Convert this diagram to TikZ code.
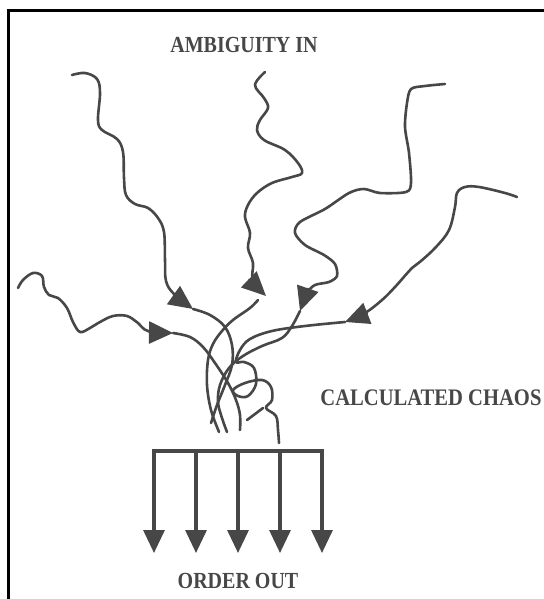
\documentclass[tikz,border=0pt]{standalone}
\usepackage{fontspec}
\setmainfont{Liberation Serif}
\usetikzlibrary{arrows.meta}
\definecolor{ink}{HTML}{474747}
\begin{document}
\begin{tikzpicture}[x=0.5pt,y=-0.5pt,
  wire/.style={draw=ink, line width=1.3pt, line cap=round, line join=round},
  tip/.style={-{Triangle[length=12pt,width=11pt]}},
  outarrow/.style={draw=ink, line width=1.6pt},
  caption/.style={font=\bfseries\fontsize{10}{12}\selectfont, text=ink, inner sep=0pt, anchor=base}]
  \useasboundingbox (0,0) rectangle (544,599);
  \clip (0,0) rectangle (544,599);
  \draw [line width=1.5pt] (8,11) rectangle (560,615);

  \node [caption] (ambig) at (244,53) {\scalebox{1}[1.15]{AMBIGUITY IN}};
  \node [caption, anchor=base west, font=\bfseries\fontsize{10.3}{12}\selectfont] (chaos) at (320,405) {\scalebox{1}[1.15]{CALCULATED CHAOS}};
  \node [caption] (order) at (238,588) {\scalebox{1}[1.15]{ORDER OUT}};

  % strands coming in, each with its arrow half way
  \draw [wire, tip] plot [smooth, tension=0.6] coordinates {(72,75) (85,73) (97,79) (100,93) (98,120) (102,130) (117,139) (123,152) (124,178) (126,195) (135,204) (148,208) (158,218) (164,232) (165,260) (166,281) (174,294) (193,309)};
  \draw [wire] plot [smooth, tension=0.6] coordinates {(193,309) (210,315) (225,327) (232,345) (232,365) (225,385) (217,405) (211,423)};

  \draw [wire, tip] plot [smooth, tension=0.6] coordinates {(265,72) (255,85) (264,98) (268,108) (260,120) (257,130) (264,140) (285,150) (298,163) (302,173) (292,177) (272,183) (257,193) (248,205) (245,217) (250,233) (248,248) (253,263) (253,280) (266,296)};
  \draw [wire] plot [smooth, tension=0.6] coordinates {(258,300) (250,308) (233,320) (222,331) (213,344) (208,360) (207,385) (211,410) (219,432)};

  \draw [wire, tip] plot [smooth, tension=0.5] coordinates {(445,84) (425,86) (411,89) (407,103) (405,127) (409,153) (411,183) (406,192) (380,193) (364,189) (349,193) (325,209) (300,222) (295,233) (305,245) (324,255) (335,264) (337,276) (329,282) (315,285) (307,293) (300,311)};
  \draw [wire] plot [smooth, tension=0.6] coordinates {(300,311) (292,326) (282,338) (262,346) (243,356) (229,368) (220,385) (218,402) (222,418) (227,432)};

  \draw [wire, tip] plot [smooth, tension=0.6] coordinates {(517,197) (505,193) (479,187) (465,187) (457,193) (455,207) (449,230) (436,247) (421,261) (412,268) (395,287) (382,300) (365,313) (345,322)};
  \draw [wire] plot [smooth, tension=0.6] coordinates {(345,322) (305,326) (272,331) (250,339) (240,350) (236,362) (244,362) (254,368) (256,384) (248,396) (238,396) (233,390) (245,383) (262,380) (271,387) (272,400) (266,408) (276,416) (278,430) (279,443)};

  \draw [wire, tip] plot [smooth, tension=0.6] coordinates {(18,288) (23,280) (33,273) (42,276) (44,287) (49,295) (58,298) (67,308) (73,322) (80,332) (90,328) (100,322) (113,316) (127,316) (138,323) (148,331) (173,333)};
  \draw [wire] plot [smooth, tension=0.6] coordinates {(173,333) (190,337) (203,347) (215,363) (228,383) (236,400) (240,415) (240,430)};
  \draw [wire] (263,408) -- (247,420);

  % comb of outgoing arrows
  \coordinate (bl) at (154,451);
  \coordinate (br) at (322,451);
  \draw [outarrow, {Triangle[length=11.5pt,width=10.5pt]}-{Triangle[length=11.5pt,width=10.5pt]}]
    (154,553) -- (bl) -- (br) -- (322,553);
  \foreach \x in {196,238,280}
    \draw [outarrow, -{Triangle[length=11.5pt,width=10.5pt]}] (\x,451) -- (\x,553);
\end{tikzpicture}
\end{document}
